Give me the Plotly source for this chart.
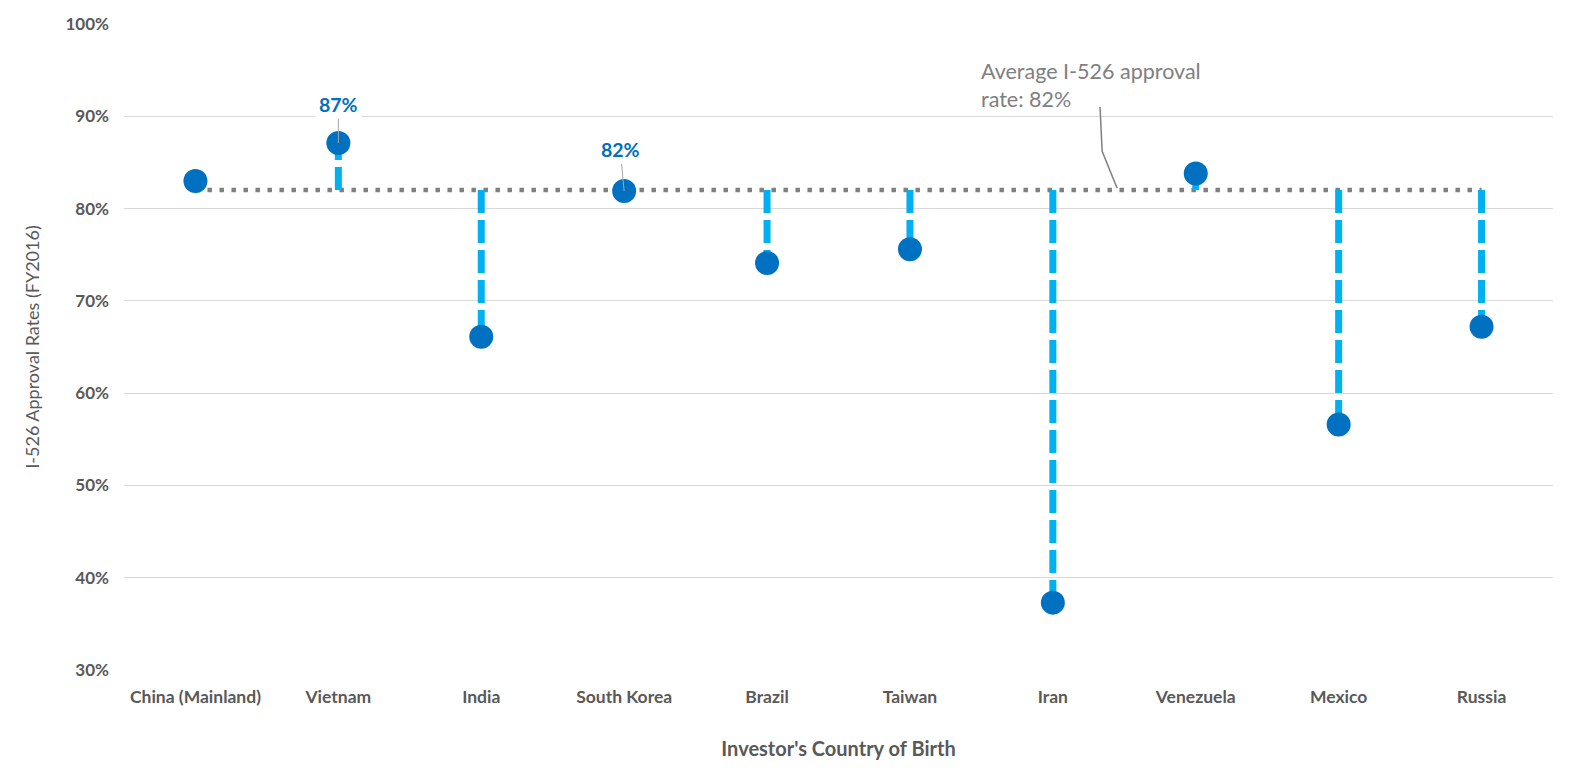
import plotly.graph_objects as go

countries = ["China (Mainland)", "Vietnam", "India", "South Korea", "Brazil",
             "Taiwan", "Iran", "Venezuela", "Mexico", "Russia"]
approval = [83.0, 87.1, 66.1, 81.9, 74.1, 75.6, 37.3, 83.8, 56.6, 67.2]
average = 82.0
y_ticks = [30, 40, 50, 60, 70, 80, 90, 100]
y_tick_text = [f"{t}%" for t in y_ticks]

FONT = "Lato, Open Sans, sans-serif"
GREY = "#595959"
fig = go.Figure()

# average dotted line
fig.add_trace(go.Scatter(
    x=countries, y=[average] * len(countries), mode="lines",
    line=dict(color="#808080", width=4.5, dash="4.5px,7.5px"), hoverinfo="skip", showlegend=False))

# dashed drop lines
xs, ys = [], []
for c, v in zip(countries, approval):
    if c == countries[0]:
        continue
    xs += [c, c, None]
    ys += [average, v, None]
fig.add_trace(go.Scatter(
    x=xs, y=ys, mode="lines",
    line=dict(color="#00B0F0", width=7, dash="23px,7px"), hoverinfo="skip", showlegend=False))

# markers
fig.add_trace(go.Scatter(
    x=countries, y=approval, mode="markers",
    marker=dict(color="#0070C0", size=24), showlegend=False))

# value labels
for idx, ax, ay in [(1, 0, -39), (3, -4, -42)]:
    fig.add_annotation(
        x=countries[idx], y=approval[idx], text=f"<b>{round(approval[idx])}%</b>",
        showarrow=True, arrowhead=0, arrowwidth=1, arrowcolor="#A6A6A6",
        ax=ax, ay=ay, bgcolor="white", borderpad=3,
        font=dict(family=FONT, size=19.5, color="#0070C0"))

# average annotation
fig.add_annotation(
    x=5.48, y=96.5, xref="x", yref="y", xanchor="left", yanchor="top",
    text="Average I-526 approval<br>rate: 82%", showarrow=False, align="left",
    font=dict(family=FONT, size=21.5, color="#808080"))
fig.add_shape(type="path", xref="x", yref="y",
              path="M 6.33 91.0 L 6.345 86.2 L 6.45 82.2",
              line=dict(color="#808080", width=1.5))

fig.update_layout(
    width=1568, height=760,
    margin=dict(l=116, r=23, t=16, b=98, autoexpand=False),
    plot_bgcolor="white", paper_bgcolor="white",
    font=dict(family=FONT, color=GREY),
    xaxis=dict(
        type="category", range=[-0.5, 9.5], showgrid=False, automargin=False,
        showline=False, ticks="", tickfont=dict(size=17.5, color=GREY, family=FONT),
        tickvals=countries, ticktext=[f"<b>{c}</b>" for c in countries],
        ticklabelstandoff=14,
        title=dict(text="<b>Investor's Country of Birth</b>", font=dict(size=20, color=GREY, family=FONT), standoff=36),
    ),
    yaxis=dict(
        range=[30, 100], tickvals=y_ticks, ticktext=[f"<b>{t}</b>" for t in y_tick_text],
        showgrid=True, gridcolor="#D9D9D9", gridwidth=1.3, zeroline=False, automargin=False,
        tickfont=dict(size=17, color=GREY, family=FONT), ticklabelstandoff=14,
        title=dict(text="I-526 Approval Rates (FY2016)", font=dict(size=18, color=GREY, family=FONT), standoff=21),
    ),
)

fig.write_html("out.html")
